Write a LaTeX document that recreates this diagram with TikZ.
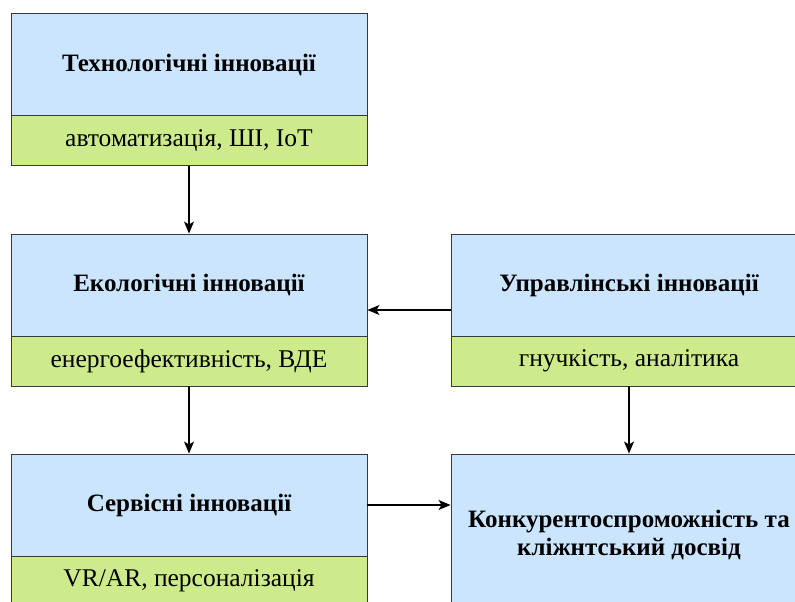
\documentclass[tikz,border=0pt]{standalone}
\usepackage{fontspec}
\setmainfont{Liberation Serif}
\usetikzlibrary{arrows.meta,calc}
\definecolor{hdrblue}{HTML}{CCE5FF}
\definecolor{subgreen}{HTML}{CDEB8B}
\definecolor{edgegray}{HTML}{36393D}
\tikzset{
  hdr/.style={draw=edgegray, line width=0.9pt, fill=hdrblue, minimum width=356pt, minimum height=102pt, inner sep=0pt, align=center, font=\fontsize{25}{28}\selectfont\bfseries},
  sub/.style={draw=edgegray, line width=0.9pt, fill=subgreen, minimum width=356pt, minimum height=50pt, inner sep=0pt, align=center, font=\fontsize{25.5}{28}\selectfont},
  conn/.style={line width=1.2pt, -{Stealth[length=12pt,width=10pt,inset=3pt]}}
}
\begin{document}
\begin{tikzpicture}[x=1pt,y=-1pt]
\useasboundingbox (0,0) rectangle (795,602);
\begin{scope}
\clip (0,0) rectangle (795,602);
\node[hdr] (b1) at (189,64.7) {Технологічні інновації};
\node[sub] (g1) at (189,140.7) {автоматизація, ШІ, ІоТ};
\node[hdr] (b2) at (189,285) {Екологічні інновації};
\node[sub] (g2) at (189,361) {енергоефективність, ВДЕ};
\node[hdr] (b3) at (629,285) {Управлінські інновації};
\node[sub] (g3) at (629,361) {гнучкість, аналітика};
\node[hdr] (b4) at (189,505) {Сервісні інновації};
\node[sub] (g4) at (189,581) {VR/AR, персоналізація};
\node[hdr, minimum height=162pt] (b5) at (629,535) {Конкурентоспроможність та\\кліжнтський досвід};
\end{scope}
\coordinate (m3) at ($(b3.north west)!0.5!(g3.south west)$);
\draw[conn] (g1.south) -- (b2.north);
\draw[conn] (m3) -- (m3 -| b2.east);
\draw[conn] (g2.south) -- (b4.north);
\draw[conn] (g3.south) -- (g3.south |- b5.north);
\draw[conn] (b4.east) -- (b4.east -| b5.west);
\end{tikzpicture}
\end{document}
